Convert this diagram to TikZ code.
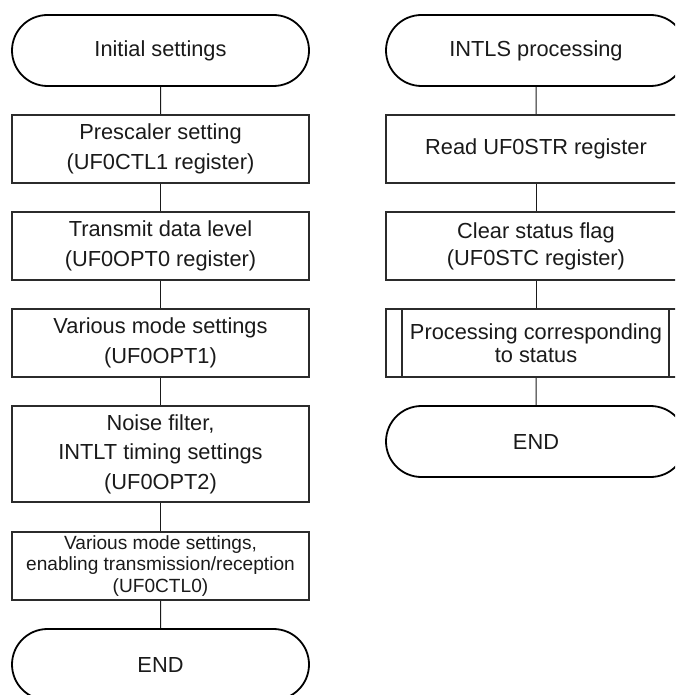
\documentclass[tikz,border=0pt]{standalone}
\usepackage{fontspec}
\setmainfont{Liberation Sans}
\usetikzlibrary{shapes.misc}
\definecolor{ink}{HTML}{1A1A1A}
\definecolor{edge}{HTML}{2B2B2B}
\begin{document}
\begin{tikzpicture}[x=1pt,y=-1pt,
  txt/.style={align=center,text=ink,font=\fontsize{21.8}{29.5}\selectfont,inner sep=0pt},
  box/.style={txt,draw=edge,line width=1.8pt,rectangle,minimum width=297pt,minimum height=68pt},
  term/.style={txt,draw=black,line width=1.8pt,rounded rectangle,minimum width=297pt,minimum height=71pt},
  conn/.style={draw=ink,line width=1pt}]
\useasboundingbox (0,0) rectangle (675,695);
\clip (0,0) rectangle (675,695);
% left column
\node[term] (l0) at (160.5,50.5) {Initial settings};
\node[box] (l1) at (160.5,149) {Prescaler setting\\(UF0CTL1 register)};
\node[box] (l2) at (160.5,246) {Transmit data level\\(UF0OPT0 register)};
\node[box] (l3) at (160.5,343) {Various mode settings\\(UF0OPT1)};
\node[box,minimum height=96pt] (l4) at (160.5,454) {Noise filter,\\INTLT timing settings\\(UF0OPT2)};
\node[box,font=\fontsize{19.1}{21.7}\selectfont] (l5) at (160.5,566) {Various mode settings,\\enabling transmission/reception\\(UF0CTL0)};
\node[term] (l6) at (160.5,664.5) {END};
\draw[conn] (l0) -- (l1);
\draw[conn] (l1) -- (l2);
\draw[conn] (l2) -- (l3);
\draw[conn] (l3) -- (l4);
\draw[conn] (l4) -- (l5);
\draw[conn] (l5) -- (l6);
% right column
\node[term,minimum width=300pt] (r0) at (536,50.5) {INTLS processing};
\node[box,minimum width=300pt] (r1) at (536,149) {Read UF0STR register};
\node[box,minimum width=300pt,font=\fontsize{21.8}{27}\selectfont] (r2) at (536,246) {Clear status flag\\(UF0STC register)};
\node[box,minimum width=300pt,font=\fontsize{21.8}{23.3}\selectfont] (r3) at (536,343) {Processing corresponding\\to status};
\draw[draw=edge,line width=1.8pt] ([xshift=17pt]r3.north west) -- ([xshift=17pt]r3.south west);
\draw[draw=edge,line width=1.8pt] ([xshift=-18pt]r3.north east) -- ([xshift=-18pt]r3.south east);
\node[term,minimum width=300pt] (r4) at (536,441.5) {END};
\draw[conn] (r0) -- (r1);
\draw[conn] (r1) -- (r2);
\draw[conn] (r2) -- (r3);
\draw[conn] (r3) -- (r4);
\end{tikzpicture}
\end{document}
